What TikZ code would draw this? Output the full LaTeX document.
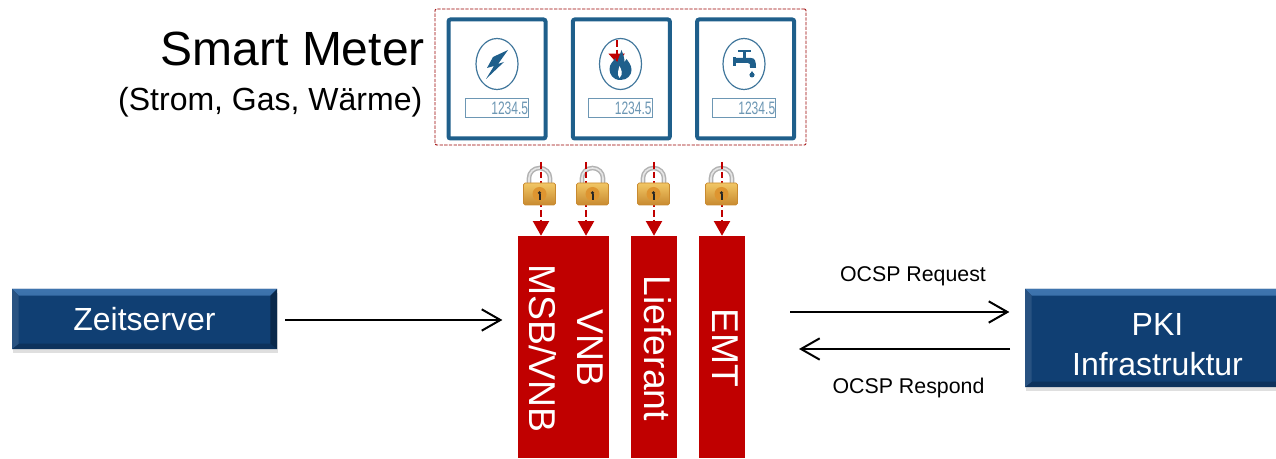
\documentclass[tikz,border=0pt]{standalone}
\usepackage{fontspec}
\setmainfont{Liberation Sans}
\usetikzlibrary{positioning,arrows.meta,shadows,shapes.geometric}

\definecolor{barred}{HTML}{C00000}
\definecolor{meterblue}{HTML}{1F5F8B}
\definecolor{boxblue}{HTML}{103F73}
\definecolor{bevellight}{HTML}{3E74AE}
\definecolor{bevelmid}{HTML}{1F5087}
\definecolor{lockgold}{HTML}{F2C765}
\definecolor{lockbrown}{HTML}{C88A30}
\definecolor{lockcore}{HTML}{DE9530}

\newcommand{\sidetext}[1]{\makebox[0pt][c]{\raisebox{-2pt}{\rotatebox{-90}{\begin{tabular}{@{}c@{}}#1\end{tabular}}}}}

\tikzset{
	bluebox/.style={fill=boxblue, text=white, inner sep=0pt, align=center,
		font=\fontsize{24}{30}\selectfont, minimum height=#1,
		minimum width=198.75pt,
		drop shadow={shadow xshift=1pt, shadow yshift=-3pt, opacity=.25},
		path picture={
			\fill[top color=bevellight, bottom color=bevelmid]
				(path picture bounding box.north west) -- (path picture bounding box.north east)
				-- ([xshift=-5pt,yshift=-5pt]path picture bounding box.north east)
				-- ([xshift=5pt,yshift=-5pt]path picture bounding box.north west) -- cycle;
			\fill[boxblue!80!black]
				(path picture bounding box.south west) -- (path picture bounding box.south east)
				-- ([xshift=-5pt,yshift=4pt]path picture bounding box.south east)
				-- ([xshift=5pt,yshift=4pt]path picture bounding box.south west) -- cycle;
			\fill[boxblue!65!black]
				(path picture bounding box.north east) -- (path picture bounding box.south east)
				-- ([xshift=-5pt,yshift=4pt]path picture bounding box.south east)
				-- ([xshift=-5pt,yshift=-5pt]path picture bounding box.north east) -- cycle;
			\fill[boxblue!90!white]
				(path picture bounding box.north west) -- (path picture bounding box.south west)
				-- ([xshift=5pt,yshift=4pt]path picture bounding box.south west)
				-- ([xshift=5pt,yshift=-5pt]path picture bounding box.north west) -- cycle;
		}},
	bluebox/.default=45pt,
	bar/.style={fill=barred, text=white, inner sep=0pt, minimum height=166.5pt,
		font=\fontsize{28}{36}\selectfont},
	meter/.style={draw=meterblue, fill=white, line width=3pt, rounded corners=1.5pt,
		inner sep=0pt, minimum width=72.75pt, minimum height=89.25pt},
	dial/.style={draw=meterblue!85!white, line width=.9pt, ellipse, inner sep=0pt,
		minimum width=31.5pt, minimum height=38.25pt},
	display/.style={draw=meterblue!65!white, line width=.9pt, inner sep=0pt,
		minimum width=47.5pt, minimum height=14.5pt},
	digits/.style={text=meterblue!65!white, inner sep=0pt, font=\fontsize{13.5}{14}\selectfont},
	icon/.style={fill=meterblue, draw=none},
	sealed/.style={draw=barred, line width=1.5pt, dash pattern=on 5pt off 2.2pt,
		-{Triangle[length=11pt,width=12pt]}},
	flow/.style={draw=black, line width=1.5pt, -{Straight Barb[length=14pt,width=16pt]}},
	shackle/.style={draw=black!30, line width=3.4pt},
	shine/.style={draw=black!10, line width=1.2pt},
	lockbody/.style={draw=lockbrown, line width=.6pt, rounded corners=1.2pt,
		top color=lockgold, bottom color=lockbrown,
		inner sep=0pt, minimum width=24pt, minimum height=16.5pt},
	msglabel/.style={inner sep=0pt, font=\fontsize{16}{18}\selectfont}
}

\begin{document}
\begin{tikzpicture}[x=.75pt, y=-.75pt]
	\useasboundingbox (0,0) rectangle (1276,459);

	\node [bluebox] (zeit) at (144.5,319) {Zeitserver};
	\node [bluebox=73.5pt] (pki) at (1157.5,338) {\rule{0pt}{26pt}PKI\\Infrastruktur};

	\node [bar, minimum width=68.25pt] (vnb) at (563.5,347) {\sidetext{VNB\\MSB/VNB}};
	\node [bar, minimum width=34.5pt, right=16pt of vnb] (lief) {\sidetext{Lieferant}};
	\node [bar, minimum width=34.5pt, right=16pt of lief] (emt) {\sidetext{EMT}};

	\node [draw=barred!80!black, dash pattern=on 2.5pt off 1pt, line width=.7pt, rounded corners=1pt, inner sep=0pt,
		minimum width=278.25pt, minimum height=102pt] (group) at (620.5,77) {};

	\node [meter] (strom) at (497,79) {};
	\node [meter, right=17.5pt of strom] (gas) {};
	\node [meter, right=17.5pt of gas] (wasser) {};

	\node [anchor=base east, inner sep=0pt, font=\fontsize{36}{40}\selectfont] (title) at (425,66) {Smart Meter};
	\node [anchor=base east, inner sep=0pt, font=\fontsize{24}{28}\selectfont] (subtitle) at (422.5,111) {(Strom, Gas, Wärme)};

	% meters
	\foreach \m/\x in {strom/497, gas/620.5, wasser/744}{
		\node [dial] (\m-dial) at (\x,64) {};
		\node [display] (\m-display) at (\x,108) {};
		\node [digits, anchor=east] (\m-digits) at ([xshift=-.6pt]\m-display.east) {\scalebox{.67}[1]{1234.5}};
	}

	\begin{scope}[shift={(strom-dial)}]
		\fill [icon] (11,-14) -- (-4,-7) -- (-10,4) -- (-3,2) -- (-11,15) -- (7,-2) -- (1,0) -- cycle;
	\end{scope}

	\coordinate (flamein) at (616.7,40);
	\coordinate (flameout) at (616.7,63);
	\draw [sealed, -{Triangle[length=7pt,width=12pt]}] (flamein) -- (flameout);

	\begin{scope}[shift={(gas-dial)}]
		\fill [icon] (0,16) .. controls (-8,16) and (-11,10) .. (-11,5)
			.. controls (-11,0) and (-7,-3) .. (-5,-6) .. controls (-5,-3) .. (-3,-2)
			.. controls (-2,-7) and (0,-10) .. (1,-14) .. controls (3,-9) and (4,-5) .. (4,-2)
			.. controls (5,-3) .. (6,-5) .. controls (8,-2) and (11,1) .. (11,6)
			.. controls (11,11) and (7,16) .. (0,16);
		\fill [white] (-1,14) .. controls (-4,10) and (-2,6) .. (-1,2) .. controls (1,6) and (3,10) .. (-1,14);
	\end{scope}

	\begin{scope}[shift={(wasser-dial)}]
		\fill [icon] (-6,-14) rectangle (7,-12);
		\fill [icon] (-1,-12) rectangle (2,-6);
		\fill [icon] (-11,-7) rectangle (-8,2);
		\fill [icon] (-8,-6) -- (7,-6) .. controls (11,-6) and (12,-3) .. (12,4) -- (6,4) .. controls (6,0) and (6,-1) .. (4,-1) -- (-8,-1) -- cycle;
		\fill [icon] (8,7) -- (5.5,11) -- (10.5,11) -- cycle;
		\fill [icon] (8,11) circle (2.5);
	\end{scope}

	% locks, the line runs over the shackle and under the body
	\foreach \n/\x in {locka/539.5, lockb/592.5, lockc/653.5, lockd/721.5}{
		\coordinate (\n) at (\x,194);
		\draw [shackle] (\x-10.5,185) -- (\x-10.5,178) arc (180:360:10.5 and 10) -- (\x+10.5,185);
		\draw [shine] (\x-10.5,185) -- (\x-10.5,178) arc (180:360:10.5 and 10) -- (\x+10.5,185);
	}

	\coordinate (seala) at (541,162);
	\coordinate (sealb) at (586,162);
	\coordinate (sealc) at (654,162);
	\coordinate (seald) at (722,162);

	\draw [sealed] (seala) -- (seala |- vnb.north);
	\draw [sealed] (sealb) -- (sealb |- vnb.north);
	\draw [sealed] (sealc) -- (sealc |- lief.north);
	\draw [sealed] (seald) -- (seald |- emt.north);

	\foreach \n in {locka, lockb, lockc, lockd}{
		\node [lockbody] (\n-body) at (\n) {};
		\fill [lockcore] (\n) circle (7);
		\fill [black!85] ([yshift=.8pt]\n) circle (1.8);
		\fill [black!85] (\n) ++(-1,0) rectangle ++(2,6);
	}

	% messages
	\coordinate (zeitlevel) at (285,320);
	\coordinate (reqstart) at (790,312);
	\coordinate (respstart) at (1010,349);
	\coordinate (respend) at (799,349);

	\draw [flow, shorten >=11.5pt] (zeitlevel) -- (zeitlevel -| vnb.west);
	\draw [flow, shorten >=11.5pt] (reqstart) -- (reqstart -| pki.west);
	\draw [flow] (respstart) -- (respend);

	\node [msglabel] (req) at (913,276) {OCSP Request};
	\node [msglabel] (resp) at (908.5,388) {OCSP Respond};
\end{tikzpicture}
\end{document}
